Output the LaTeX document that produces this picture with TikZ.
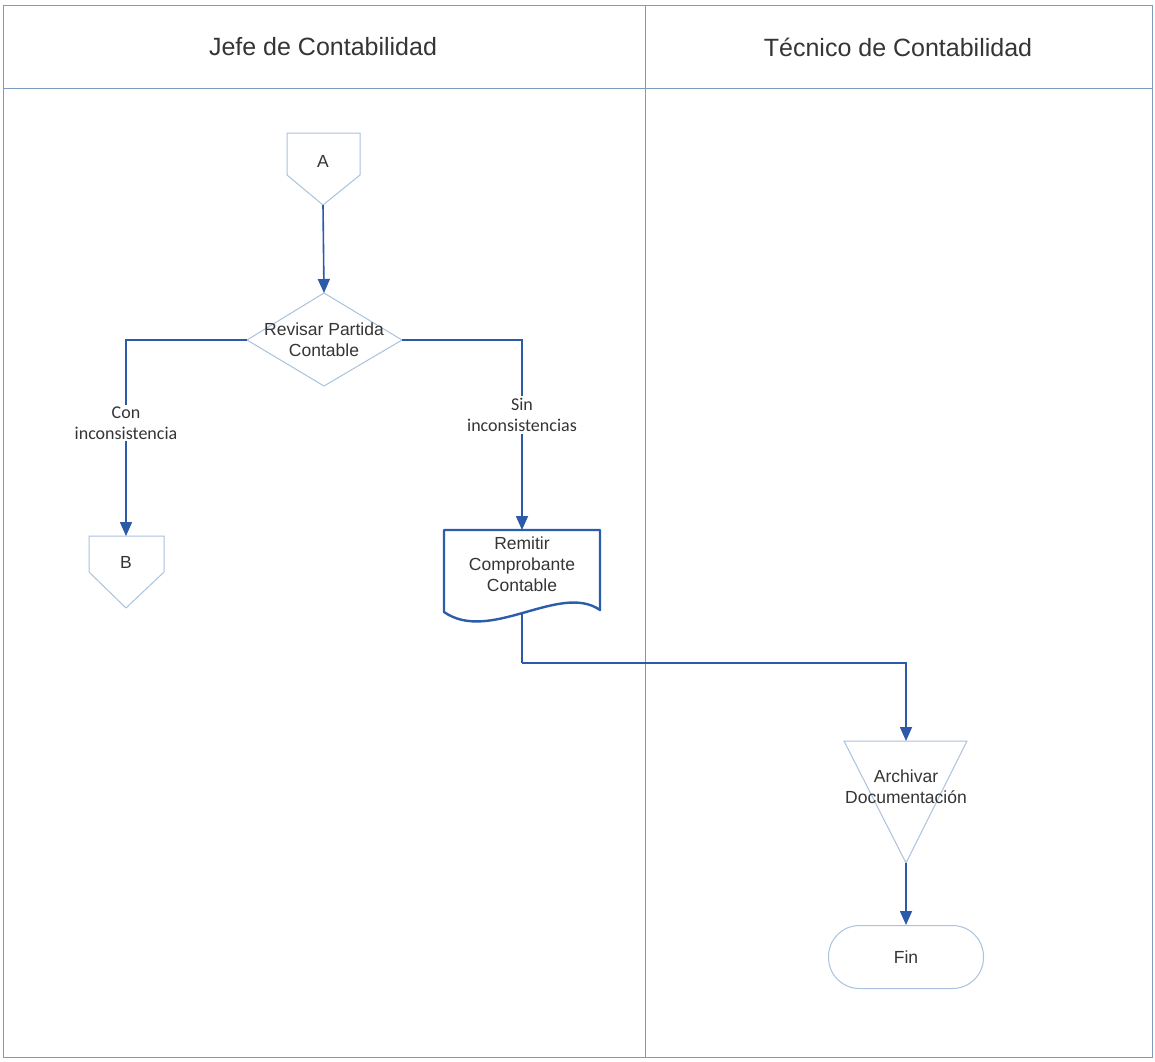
\documentclass[tikz,border=0pt]{standalone}
\usepackage{fontspec}
\setmainfont{Liberation Sans}
\newfontfamily\labelfont{Carlito}
\usetikzlibrary{arrows.meta}
\definecolor{laneline}{HTML}{7B9BC0}
\definecolor{flow}{HTML}{2C5AA8}
\definecolor{shapeline}{HTML}{A9C3DE}
\definecolor{docline}{HTML}{2A5DAA}
\definecolor{txt}{HTML}{353535}

\begin{document}
\begin{tikzpicture}[x=1pt,y=-1pt,
  laneframe/.style={draw=laneline, line width=1pt},
  shp/.style={draw=shapeline, line width=1pt, fill=white},
  flowline/.style={draw=flow, line width=1.6pt, -{Triangle[length=14pt,width=12pt]}},
  plainflow/.style={draw=flow, line width=1.6pt},
  shapetext/.style={font=\fontsize{17.5}{21}\selectfont, text=txt, align=center, inner sep=0pt},
  edgelabel/.style={font=\labelfont\fontsize{18}{21}\selectfont, text=txt, align=center, fill=white, inner sep=2pt},
  header/.style={font=\fontsize{25}{30}\selectfont, text=txt}]

\useasboundingbox (0,0) rectangle (1155,1061);
\fill[white] (0,0) rectangle (1155,1061);

% swimlanes
\draw[laneframe] (3,5) rectangle (1152,1057);
\draw[laneframe] (3,88) -- (1152,88);
\draw[laneframe] (645,5) -- (645,1057);
\node[header] (laneJefe) at (323,47) {Jefe de Contabilidad};
\node[header] (laneTecnico) at (898,47) {Técnico de Contabilidad};

% off-page connector A
\draw[shp] (287,133) -- (360,133) -- (360,175) -- (323,205) -- (287,175) -- cycle;
\node[shapetext] (A) at (323,161) {A};
\coordinate (A-out) at (323,205);

% decision
\draw[shp] (247,340) -- (324,293) -- (402,340) -- (324,386) -- cycle;
\node[shapetext] (revisar) at (324,340) {Revisar Partida\\Contable};
\coordinate (dia-top) at (324,293);
\coordinate (dia-left) at (247,340);
\coordinate (dia-right) at (402,340);

% off-page connector B
\draw[shp] (89,536) -- (164,536) -- (164,572) -- (126,608) -- (89,572) -- cycle;
\node[shapetext] (B) at (126,562) {B};
\coordinate (B-in) at (126,536);

% document
\draw[draw=docline, line width=2.4pt, fill=white, line join=round]
  (444,530) -- (600,530) -- (600,610)
  .. controls (560,582) and (490,644) .. (444,612) -- cycle;
\node[shapetext] (remitir) at (522,564) {Remitir\\Comprobante\\Contable};
\coordinate (doc-in) at (522,530);
\coordinate (doc-out) at (522,613);
\coordinate (bend) at (522,663);

% archive
\draw[shp] (844,741) -- (967,741) -- (906,863) -- cycle;
\node[shapetext] (archivar) at (906,787) {Archivar\\Documentación};
\coordinate (tri-in) at (906,741);
\coordinate (tri-out) at (906,863);

% terminator
\node[shp, shapetext, rounded corners=31pt, minimum width=155pt, minimum height=63pt] (fin) at (906,957) {Fin};

% connectors
\draw[flowline] (A-out) -- (dia-top);
\draw[flowline] (dia-left) -| (B-in);
\draw[flowline] (dia-right) -| (doc-in);
\draw[plainflow] (doc-out) -- (bend);
\draw[flowline] (bend) -| (tri-in);
\draw[flowline] (tri-out) -- (fin.north);

% branch labels
\node[edgelabel] (lblCon) at (126,423) {Con\\inconsistencia};
\node[edgelabel] (lblSin) at (522,415) {Sin\\inconsistencias};
\end{tikzpicture}
\end{document}
